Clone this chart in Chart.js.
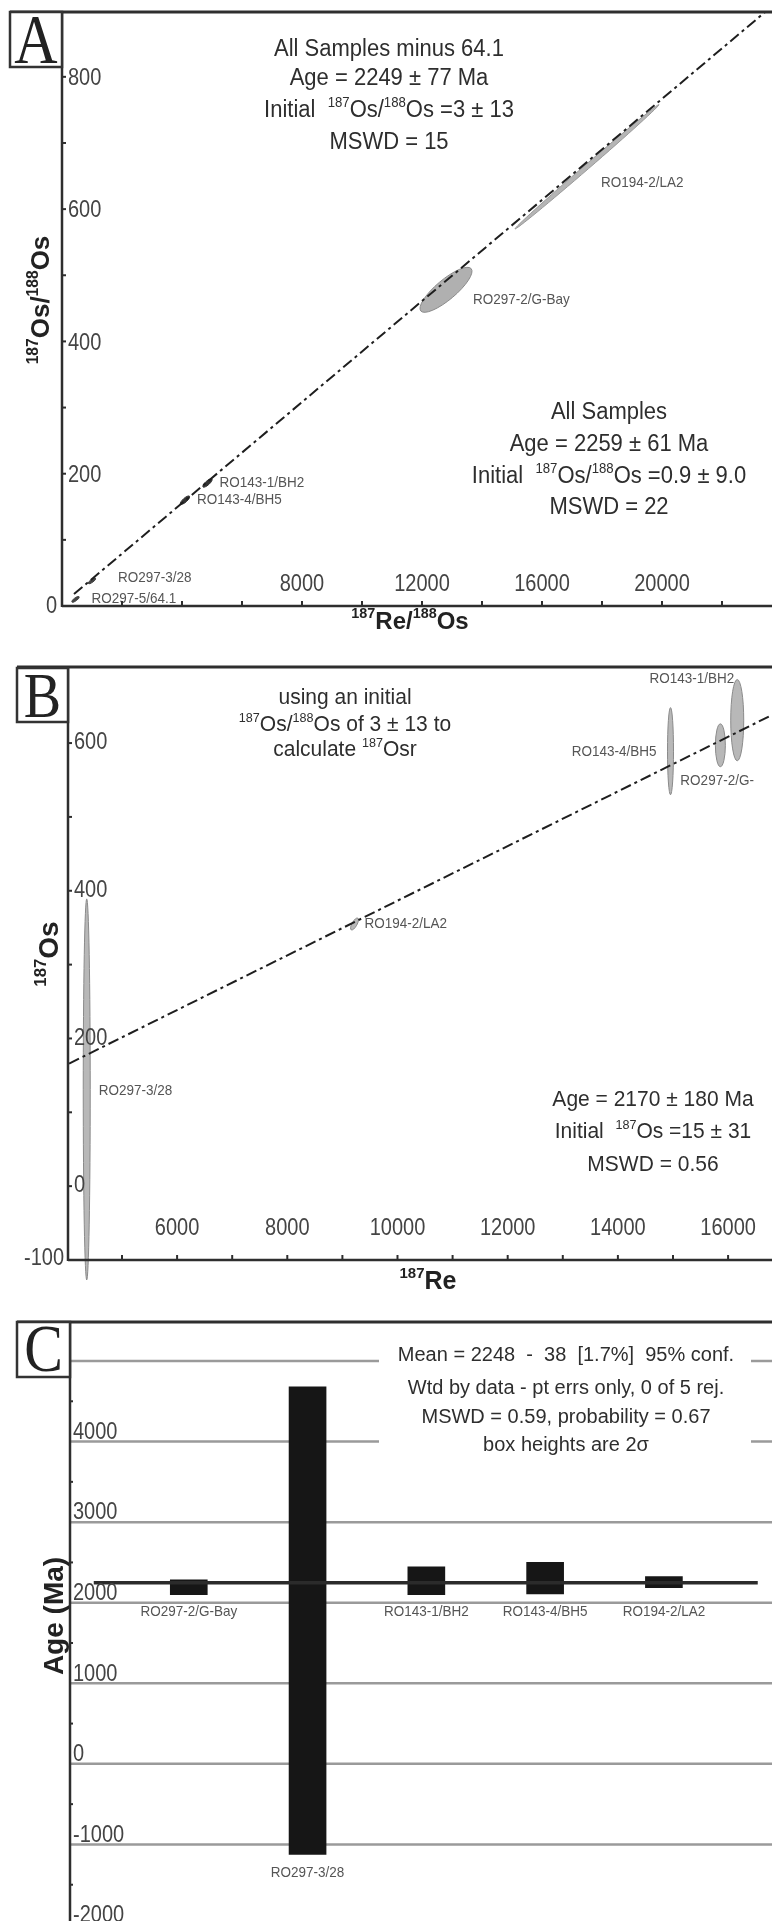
<!DOCTYPE html>
<html>
<head>
<meta charset="utf-8">
<script src="https://cdn.jsdelivr.net/npm/chart.js@4.4.1/dist/chart.umd.min.js"></script>
<style>
  html, body { margin: 0; padding: 0; background: #fff; }
  body { width: 772px; height: 1921px; overflow: hidden; position: relative; }
  canvas { position: absolute; left: 0; }
</style>
</head>
<body>
<canvas id="chartA" width="772" height="640" style="top:0"></canvas>
<canvas id="chartB" width="772" height="650" style="top:640px"></canvas>
<canvas id="chartC" width="772" height="640" style="top:1290px"></canvas>
<script>
// ---- panel A : 187Re/188Os vs 187Os/188Os ----
const samplesA = ["RO297-5/64.1", "RO297-3/28", "RO143-4/BH5", "RO143-1/BH2", "RO297-2/G-Bay", "RO194-2/LA2"];
const reOsA = [450, 1000, 4100, 4850, 12800, 17500];
const osOsA = [10, 38, 160, 186, 478, 664];
const reOsErrA = [120, 120, 150, 150, 840, 2400];
const osOsErrA = [4, 4, 6, 6, 32, 94];
const isochronReA = [400, 23440];
const isochronOsA = [18, 898];
const tickLabelsXA = [8000, 12000, 16000, 20000];
const tickMarksXA = [2000, 4000, 6000, 8000, 10000, 12000, 14000, 16000, 18000, 20000, 22000];
const tickLabelsYA = [0, 200, 400, 600, 800];
const tickMarksYA = [100, 200, 300, 400, 500, 600, 700, 800];

// ---- panel B : 187Re vs 187Os ----
const samplesB = ["RO297-3/28", "RO194-2/LA2", "RO143-4/BH5", "RO297-2/G-", "RO143-1/BH2"];
const re187B = [4360, 9220, 14955, 15860, 16166];
const os187B = [131, 355, 589, 597, 631];
const re187ErrB = [0, 60, 0, 0, 0];
const os187ErrB = [258, 8, 59, 29, 55];
const isochronReB = [4040, 16797];
const isochronOsB = [166, 638];
const tickLabelsXB = [6000, 8000, 10000, 12000, 14000, 16000];
const tickMarksXB = [5000, 6000, 7000, 8000, 9000, 10000, 11000, 12000, 13000, 14000, 15000, 16000];
const tickLabelsYB = [-100, 0, 200, 400, 600];
const tickMarksYB = [0, 100, 200, 300, 400, 500, 600];

// ---- panel C : weighted mean of model ages ----
const samplesC = ["RO297-2/G-Bay", "RO297-3/28", "RO143-1/BH2", "RO143-4/BH5", "RO194-2/LA2"];
const slotC = [1, 2, 3, 4, 5];
const ageLowC = [2100, -1125, 2100, 2110, 2186];
const ageHighC = [2285, 4680, 2445, 2500, 2323];
const meanAgeC = 2248;
const meanSpanC = [0.2, 5.79];
const tickLabelsYC = [-2000, -1000, 0, 1000, 2000, 3000, 4000];
const gridYC = [-2000, -1000, 0, 1000, 2000, 3000, 4000, 5000];
const minorYC = [-1500, -500, 500, 1500, 2500, 3500, 4500];

// ---- styles ----
const FONT = '"Liberation Sans", Arial, sans-serif';
const SERIF = '"Liberation Serif", "DejaVu Serif", serif';
const INK = "#2e2e2e";
const STRETCH = 1.12;
const ellHalfA = [1.5, 1.5, 2, 2, 10, 2.4];
const ellFillA = ["#444", "#444", "#333", "#333", "#b0b0b0", "#b5b5b5"];
const ellLineA = ["#444", "#444", "#333", "#333", "#8a8a8a", "#999"];
const labelOffA = [[16, -1], [26, -3], [12, 0], [12, 0], [27, 10], [14, 16]];
const ellHalfB = [3.5, 2.5, 3, 5, 6.5];
const labelOffB = [[12, 1, "left"], [10, 0, "left"], [-14, 1, "right"], [-40, 36, "left"], [-3, -41, "right"]];
const labelOffC = [17, 18, 17, 18, 24];
const LABEL = { size: 13.5, color: "#555" };

function richText(ctx, segs, x, y, o) {
  const f = o.size;
  const wt = o.bold ? "bold " : "";
  let w = 0;
  const parts = segs.map(s => {
    const sz = s[1] ? f * 0.6 : f;
    ctx.font = wt + sz + "px " + (o.family || FONT);
    const pw = ctx.measureText(s[0]).width;
    w += pw;
    return { t: s[0], sz: sz, pw: pw, sup: s[1] };
  });
  ctx.save();
  ctx.translate(x, y);
  ctx.scale(1, o.stretch || STRETCH);
  if (o.rotate) ctx.rotate(-Math.PI / 2);
  ctx.fillStyle = o.color || INK;
  ctx.textBaseline = "middle";
  ctx.textAlign = "left";
  let cx = o.align === "left" ? 0 : o.align === "right" ? -w : -w / 2;
  parts.forEach(p => {
    ctx.font = wt + p.sz + "px " + (o.family || FONT);
    ctx.fillText(p.t, cx, p.sup ? -f * 0.32 : 0);
    cx += p.pw;
  });
  ctx.restore();
}

function seg(ctx, x0, y0, x1, y1, w, color) {
  ctx.save();
  ctx.strokeStyle = color || INK;
  ctx.lineWidth = w;
  ctx.beginPath();
  ctx.moveTo(x0, y0);
  ctx.lineTo(x1, y1);
  ctx.stroke();
  ctx.restore();
}

function drawEllipse(ctx, xs, ys, cx, cy, ex, ey, half, fill, stroke) {
  const x0 = xs.getPixelForValue(cx - ex), y0 = ys.getPixelForValue(cy - ey);
  const x1 = xs.getPixelForValue(cx + ex), y1 = ys.getPixelForValue(cy + ey);
  const mx = (x0 + x1) / 2, my = (y0 + y1) / 2;
  const a = Math.max(Math.hypot(x1 - x0, y1 - y0) / 2, half);
  const ang = Math.atan2(y1 - y0, x1 - x0);
  ctx.save();
  ctx.beginPath();
  ctx.ellipse(mx, my, a, half, ang, 0, Math.PI * 2);
  ctx.fillStyle = fill;
  ctx.fill();
  ctx.strokeStyle = stroke;
  ctx.lineWidth = 1;
  ctx.stroke();
  ctx.restore();
  return { x: mx, y: my };
}

function letterBox(ctx, ch, x0, y0, x1, y1, base, size) {
  ctx.save();
  ctx.fillStyle = "#fff";
  ctx.fillRect(x0, y0, x1 - x0, y1 - y0);
  ctx.strokeStyle = "#333";
  ctx.lineWidth = 2.5;
  ctx.strokeRect(x0, y0, x1 - x0, y1 - y0);
  ctx.translate((x0 + x1) / 2, base);
  ctx.scale(1, 1.15);
  ctx.font = size + "px " + SERIF;
  ctx.fillStyle = "#222";
  ctx.textAlign = "center";
  ctx.textBaseline = "alphabetic";
  ctx.fillText(ch, 0, 0);
  ctx.restore();
}

const baseOptions = (pad, xr, yr) => ({
  responsive: false,
  animation: false,
  events: [],
  layout: { padding: pad },
  plugins: { legend: { display: false }, tooltip: { enabled: false } },
  scales: {
    x: { type: "linear", display: false, offset: false, min: xr[0], max: xr[1] },
    y: { type: "linear", display: false, min: yr[0], max: yr[1] }
  }
});

const TICK = { size: 20, color: "#444", stretch: 1.15 };

// ---------------- panel A ----------------
const panelA = {
  id: "panelA",
  beforeDatasetsDraw(chart) {
    const { ctx, scales: { x, y } } = chart;
    samplesA.forEach((name, i) => {
      const c = drawEllipse(ctx, x, y, reOsA[i], osOsA[i], reOsErrA[i], osOsErrA[i], ellHalfA[i], ellFillA[i], ellLineA[i]);
      richText(ctx, [[name, 0]], c.x + labelOffA[i][0], c.y + labelOffA[i][1], Object.assign({ align: "left" }, LABEL));
    });
  },
  afterDatasetsDraw(chart) {
    const { ctx, chartArea: ca, scales: { x, y } } = chart;
    seg(ctx, 10, ca.top, ca.right, ca.top, 3);
    seg(ctx, ca.left, ca.top, ca.left, ca.bottom + 1, 2.5);
    seg(ctx, ca.left, ca.bottom, ca.right, ca.bottom, 2.5);
    tickMarksXA.forEach(v => {
      const px = x.getPixelForValue(v);
      seg(ctx, px, ca.bottom, px, ca.bottom - 5, 2);
    });
    tickMarksYA.forEach(v => {
      const py = y.getPixelForValue(v);
      seg(ctx, ca.left, py, ca.left + 4, py, 2);
    });
    tickLabelsXA.forEach(v => {
      richText(ctx, [[String(v), 0]], x.getPixelForValue(v), ca.bottom - 21, TICK);
    });
    tickLabelsYA.forEach(v => {
      const py = y.getPixelForValue(v);
      if (v === 0) richText(ctx, [["0", 0]], ca.left - 5, py + 1, Object.assign({ align: "right" }, TICK));
      else richText(ctx, [[String(v), 0]], ca.left + 6, py + 2, Object.assign({ align: "left" }, TICK));
    });
    richText(ctx, [["187", 1], ["Re/", 0], ["188", 1], ["Os", 0]], 410, 622, { size: 24, bold: true, color: "#222", stretch: 1 });
    richText(ctx, [["187", 1], ["Os/", 0], ["188", 1], ["Os", 0]], 42, 300, { size: 26, bold: true, color: "#222", rotate: true, stretch: 1 });
    const t = { size: 22, color: INK, stretch: 1.05 };
    richText(ctx, [["All Samples minus 64.1", 0]], 389, 50, t);
    richText(ctx, [["Age = 2249 \u00b1 77 Ma", 0]], 389, 79, t);
    richText(ctx, [["Initial  ", 0], ["187", 1], ["Os/", 0], ["188", 1], ["Os =3 \u00b1 13", 0]], 389, 111, t);
    richText(ctx, [["MSWD = 15", 0]], 389, 143, t);
    richText(ctx, [["All Samples", 0]], 609, 413, t);
    richText(ctx, [["Age = 2259 \u00b1 61 Ma", 0]], 609, 445, t);
    richText(ctx, [["Initial  ", 0], ["187", 1], ["Os/", 0], ["188", 1], ["Os =0.9 \u00b1 9.0", 0]], 609, 477, t);
    richText(ctx, [["MSWD = 22", 0]], 609, 508, t);
    letterBox(ctx, "A", 10, 12, 62, 67, 63, 60);
  }
};

new Chart(document.getElementById("chartA"), {
  type: "scatter",
  data: {
    datasets: [{
      data: isochronReA.map((v, i) => ({ x: v, y: isochronOsA[i] })),
      showLine: true,
      borderColor: "#1e1e1e",
      borderWidth: 2,
      borderDash: [11, 4, 3, 4],
      pointRadius: 0
    }]
  },
  options: baseOptions({ left: 62, top: 12, right: 0, bottom: 34 }, [0, 23667], [0, 898]),
  plugins: [panelA]
});

// ---------------- panel B ----------------
const panelB = {
  id: "panelB",
  beforeDatasetsDraw(chart) {
    const { ctx, scales: { x, y } } = chart;
    samplesB.forEach((name, i) => {
      const c = drawEllipse(ctx, x, y, re187B[i], os187B[i], re187ErrB[i], os187ErrB[i], ellHalfB[i], "#b8b8b8", "#8a8a8a");
      richText(ctx, [[name, 0]], c.x + labelOffB[i][0], c.y + labelOffB[i][1], Object.assign({ align: labelOffB[i][2] }, LABEL));
    });
  },
  afterDatasetsDraw(chart) {
    const { ctx, chartArea: ca, scales: { x, y } } = chart;
    seg(ctx, 17, ca.top, ca.right, ca.top, 3);
    seg(ctx, ca.left, ca.top, ca.left, ca.bottom + 1, 2.5);
    seg(ctx, ca.left, ca.bottom, ca.right, ca.bottom, 2.5);
    tickMarksXB.forEach(v => {
      const px = x.getPixelForValue(v);
      seg(ctx, px, ca.bottom, px, ca.bottom - 5, 2);
    });
    tickMarksYB.forEach(v => {
      const py = y.getPixelForValue(v);
      seg(ctx, ca.left, py, ca.left + 4, py, 2);
    });
    tickLabelsXB.forEach(v => {
      richText(ctx, [[String(v), 0]], x.getPixelForValue(v), ca.bottom - 31, TICK);
    });
    tickLabelsYB.forEach(v => {
      const py = y.getPixelForValue(v);
      if (v < 0) richText(ctx, [[String(v), 0]], ca.left - 4, py - 1, Object.assign({ align: "right" }, TICK));
      else richText(ctx, [[String(v), 0]], ca.left + 6, py, Object.assign({ align: "left" }, TICK));
    });
    richText(ctx, [["187", 1], ["Re", 0]], 428, 642, { size: 25, bold: true, color: "#222", stretch: 1 });
    richText(ctx, [["187", 1], ["Os", 0]], 50, 314, { size: 28, bold: true, color: "#222", rotate: true, stretch: 1 });
    const t = { size: 21, color: INK, stretch: 1.05 };
    richText(ctx, [["using an initial", 0]], 345, 58, t);
    richText(ctx, [["187", 1], ["Os/", 0], ["188", 1], ["Os of 3 \u00b1 13 to", 0]], 345, 85, t);
    richText(ctx, [["calculate ", 0], ["187", 1], ["Osr", 0]], 345, 110, t);
    richText(ctx, [["Age = 2170 \u00b1 180 Ma", 0]], 653, 460, t);
    richText(ctx, [["Initial  ", 0], ["187", 1], ["Os =15 \u00b1 31", 0]], 653, 492, t);
    richText(ctx, [["MSWD = 0.56", 0]], 653, 525, t);
    letterBox(ctx, "B", 17, 28, 68, 82, 77, 56);
  }
};

new Chart(document.getElementById("chartB"), {
  type: "scatter",
  data: {
    datasets: [{
      data: isochronReB.map((v, i) => ({ x: v, y: isochronOsB[i] })),
      showLine: true,
      borderColor: "#1e1e1e",
      borderWidth: 2,
      borderDash: [11, 4, 3, 4],
      pointRadius: 0
    }]
  },
  options: baseOptions({ left: 68, top: 27, right: 0, bottom: 30 }, [4020, 16797], [-100, 703]),
  plugins: [panelB]
});

// ---------------- panel C ----------------
const panelC = {
  id: "panelC",
  beforeDatasetsDraw(chart) {
    const { ctx, chartArea: ca, scales: { y } } = chart;
    gridYC.forEach(v => {
      const py = y.getPixelForValue(v);
      seg(ctx, ca.left, py, ca.right, py, 2.5, "#9a9a9a");
    });
    ctx.fillStyle = "#fff";
    ctx.fillRect(379, 48, 372, 124);
  },
  afterDatasetsDraw(chart) {
    const { ctx, chartArea: ca, scales: { x, y } } = chart;
    seg(ctx, 17, ca.top, ca.right, ca.top, 3);
    seg(ctx, ca.left, ca.top, ca.left, ca.bottom + 6, 2.5);
    minorYC.forEach(v => {
      const py = y.getPixelForValue(v);
      seg(ctx, ca.left, py, ca.left + 3, py, 2);
    });
    tickLabelsYC.forEach(v => {
      richText(ctx, [[String(v), 0]], ca.left + 3, y.getPixelForValue(v) - 9, Object.assign({ align: "left" }, TICK));
    });
    samplesC.forEach((name, i) => {
      const px = x.getPixelForValue(slotC[i]);
      const py = y.getPixelForValue(ageLowC[i]);
      richText(ctx, [[name, 0]], px, py + labelOffC[i], LABEL);
    });
    richText(ctx, [["Age (Ma)", 0]], 55, 326, { size: 28, bold: true, color: "#222", rotate: true, stretch: 1 });
    const t = { size: 20, color: INK, stretch: 1.05 };
    richText(ctx, [["Mean = 2248  -  38  [1.7%]  95% conf.", 0]], 566, 65, t);
    richText(ctx, [["Wtd by data - pt errs only, 0 of 5 rej.", 0]], 566, 98, t);
    richText(ctx, [["MSWD = 0.59, probability = 0.67", 0]], 566, 127, t);
    richText(ctx, [["box heights are 2\u03c3", 0]], 566, 155, t);
    letterBox(ctx, "C", 17, 32, 70, 87, 81, 58);
  }
};

new Chart(document.getElementById("chartC"), {
  type: "bar",
  data: {
    datasets: [
      {
        type: "line",
        data: meanSpanC.map(v => ({ x: v, y: meanAgeC })),
        borderColor: "#2b2b2b",
        borderWidth: 3.5,
        pointRadius: 0,
        order: 0
      },
      {
        data: samplesC.map((s, i) => ({ x: slotC[i], y: [ageLowC[i], ageHighC[i]] })),
        backgroundColor: "#161616",
        borderWidth: 0,
        barThickness: 37,
        order: 1
      }
    ]
  },
  options: baseOptions({ left: 70, top: 32, right: 0, bottom: 5 }, [0, 5.91], [-2000, 5484]),
  plugins: [panelC]
});
</script>
</body>
</html>
